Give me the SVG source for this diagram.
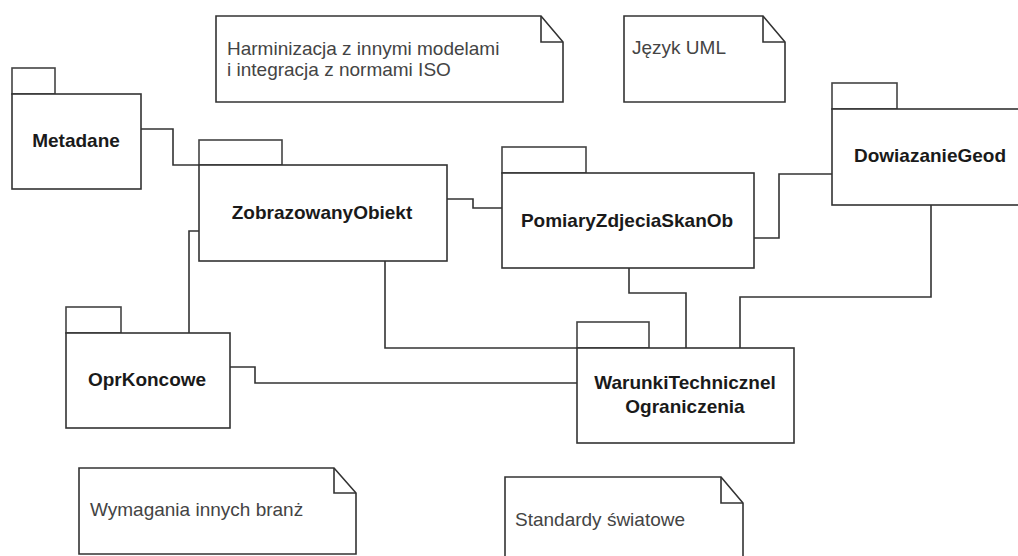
<svg xmlns="http://www.w3.org/2000/svg" width="1018" height="556" viewBox="0 0 1018 556">
<style>
.box{fill:#fff;stroke:#333;stroke-width:1.6}
.tab{fill:#fff;stroke:#444;stroke-width:1.6}
.pk{font-family:"Liberation Sans",Arial,sans-serif;font-size:19px;font-weight:bold;fill:#1a1a1a;text-anchor:middle}
.nt{font-family:"Liberation Sans",Arial,sans-serif;font-size:19px;fill:#444}
.note{fill:#fff;stroke:#333;stroke-width:1.6;stroke-linejoin:miter}
.fold{fill:none;stroke:#333;stroke-width:1.6}
.conn{fill:none;stroke:#333;stroke-width:1.6}
</style>
<rect width="1018" height="556" fill="#fff"/>

<g id="connectors">
<polyline class="conn" points="141,129 173,129 173,165 199,165"/>
<polyline class="conn" points="447,199 473,199 473,208 502,208"/>
<polyline class="conn" points="754,238 779,238 779,174 832,174"/>
<polyline class="conn" points="199,231 189,231 189,333"/>
<polyline class="conn" points="385,261 385,348 577,348"/>
<polyline class="conn" points="230,367 255,367 255,383 577,383"/>
<polyline class="conn" points="629,268 629,293 686,293 686,348"/>
<polyline class="conn" points="931,205 931,297 740,297 740,348"/>
</g>

<g id="note-harminizacja">
<path class="note" d="M216,16 H541 L563,42 V102 H216 Z"/>
<path class="fold" d="M541,16 V42 H563"/>
<text class="nt" x="227" y="55">Harminizacja z innymi modelami</text>
<text class="nt" x="227" y="76">i integracja z normami ISO</text>
</g>

<g id="note-uml">
<path class="note" d="M624,16 H763 L785,42 V102 H624 Z"/>
<path class="fold" d="M763,16 V42 H785"/>
<text class="nt" x="632" y="54">Język UML</text>
</g>

<g id="note-wymagania">
<path class="note" d="M79,468 H334 L356,493 V554 H79 Z"/>
<path class="fold" d="M334,468 V493 H356"/>
<text class="nt" x="90" y="516">Wymagania innych branż</text>
</g>

<g id="note-standardy">
<path class="note" d="M505,477 H721 L743,503 V570 H505 Z"/>
<path class="fold" d="M721,477 V503 H743"/>
<text class="nt" x="515" y="526">Standardy światowe</text>
</g>

<g id="pkg-metadane">
<rect class="tab" x="12" y="68" width="43" height="26"/>
<rect class="box" x="12" y="94" width="129" height="95"/>
<text class="pk" x="76" y="147">Metadane</text>
</g>

<g id="pkg-zobrazowany">
<rect class="tab" x="199" y="140" width="83" height="25"/>
<rect class="box" x="199" y="165" width="248" height="96"/>
<text class="pk" x="322" y="219">ZobrazowanyObiekt</text>
</g>

<g id="pkg-pomiary">
<rect class="tab" x="502" y="147" width="84" height="26"/>
<rect class="box" x="502" y="173" width="252" height="95"/>
<text class="pk" x="627" y="227">PomiaryZdjeciaSkanOb</text>
</g>

<g id="pkg-dowiazanie">
<rect class="tab" x="832" y="83" width="65" height="26"/>
<rect class="box" x="832" y="109" width="196" height="96"/>
<text class="pk" x="930" y="162">DowiazanieGeod</text>
</g>

<g id="pkg-opr">
<rect class="tab" x="66" y="307" width="55" height="26"/>
<rect class="box" x="66" y="333" width="164" height="95"/>
<text class="pk" x="147" y="386">OprKoncowe</text>
</g>

<g id="pkg-warunki">
<rect class="tab" x="577" y="322" width="72" height="26"/>
<rect class="box" x="577" y="348" width="217" height="95"/>
<text class="pk" x="685" y="389">WarunkiTechnicznel</text>
<text class="pk" x="685" y="413">Ograniczenia</text>
</g>
</svg>
